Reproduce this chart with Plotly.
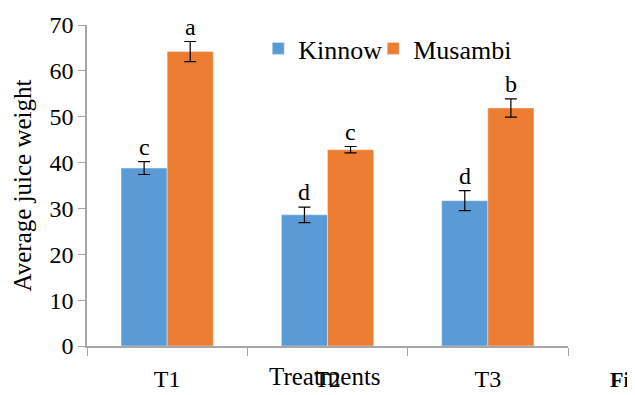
import plotly.graph_objects as go

treatments = ["T1", "T2", "T3"]
kinnow = [38.8, 28.6, 31.7]
kinnow_err = [1.4, 1.7, 2.2]
kinnow_letters = ["c", "d", "d"]
musambi = [64.2, 42.8, 51.9]
musambi_err = [2.2, 0.7, 2.0]
musambi_letters = ["a", "c", "b"]

FONT = "Times New Roman, Liberation Serif, serif"
BLUE = "#5B9BD5"
ORANGE = "#ED7D31"

fig = go.Figure()
fig.add_trace(go.Bar(
    name="Kinnow", x=treatments, y=kinnow, marker_color=BLUE, legend="legend",
    error_y=dict(type="data", array=kinnow_err, color="black", thickness=1.2, width=6),
))
fig.add_trace(go.Bar(
    name="Musambi", x=treatments, y=musambi, marker_color=ORANGE, legend="legend2",
    error_y=dict(type="data", array=musambi_err, color="black", thickness=1.2, width=6),
))

# significance letters above error bars
offsets = {"Kinnow": -0.1435, "Musambi": 0.1435}
for name, vals, errs, letters in [("Kinnow", kinnow, kinnow_err, kinnow_letters),
                                   ("Musambi", musambi, musambi_err, musambi_letters)]:
    for i, (v, e, l) in enumerate(zip(vals, errs, letters)):
        fig.add_annotation(x=i + offsets[name], y=v + e, text=l, showarrow=False,
                           xref="x", yref="y", yanchor="bottom", yshift=0,
                           font=dict(family=FONT, size=24, color="black"))

fig.add_annotation(x=0.495, y=-0.142, xref="paper", yref="paper", text="Treatments",
                   showarrow=False, font=dict(family=FONT, size=25, color="black"))
fig.add_annotation(x=1.133, y=-0.1495, xref="paper", yref="paper", text="<b>Fi</b>",
                   xanchor="right", yanchor="bottom", showarrow=False,
                   font=dict(family=FONT, size=22, color="black"))

legend_style = dict(orientation="h", y=1.0, xanchor="left", yanchor="top",
                    font=dict(family=FONT, size=26, color="black"),
                    bgcolor="rgba(0,0,0,0)", itemwidth=30)

fig.update_layout(
    width=627, height=387,
    margin=dict(l=79, r=67, t=17, b=49, autoexpand=False),
    paper_bgcolor="white", plot_bgcolor="white",
    barmode="group", bargap=0.425, bargroupgap=0,
    font=dict(family=FONT, size=24, color="black"),
    showlegend=True,
    legend=dict(x=0.356, **legend_style),
    legend2=dict(x=0.595, **legend_style),
    xaxis=dict(type="category", showline=True, linecolor="#A6A6A6", linewidth=1.5,
               ticks="outside", tickson="boundaries", ticklen=8, tickcolor="#A6A6A6",
               showgrid=False, automargin=False, ticklabelstandoff=10,
               tickfont=dict(family=FONT, size=24)),
    yaxis=dict(range=[0, 70], dtick=10, showline=True, linecolor="#A6A6A6", linewidth=1.5,
               ticks="outside", ticklen=7, tickcolor="#A6A6A6", showgrid=False,
               zeroline=False, automargin=False, tickfont=dict(family=FONT, size=24),
               title=dict(text="Average juice weight", font=dict(family=FONT, size=25), standoff=11)),
)

fig.write_html("out.html")
